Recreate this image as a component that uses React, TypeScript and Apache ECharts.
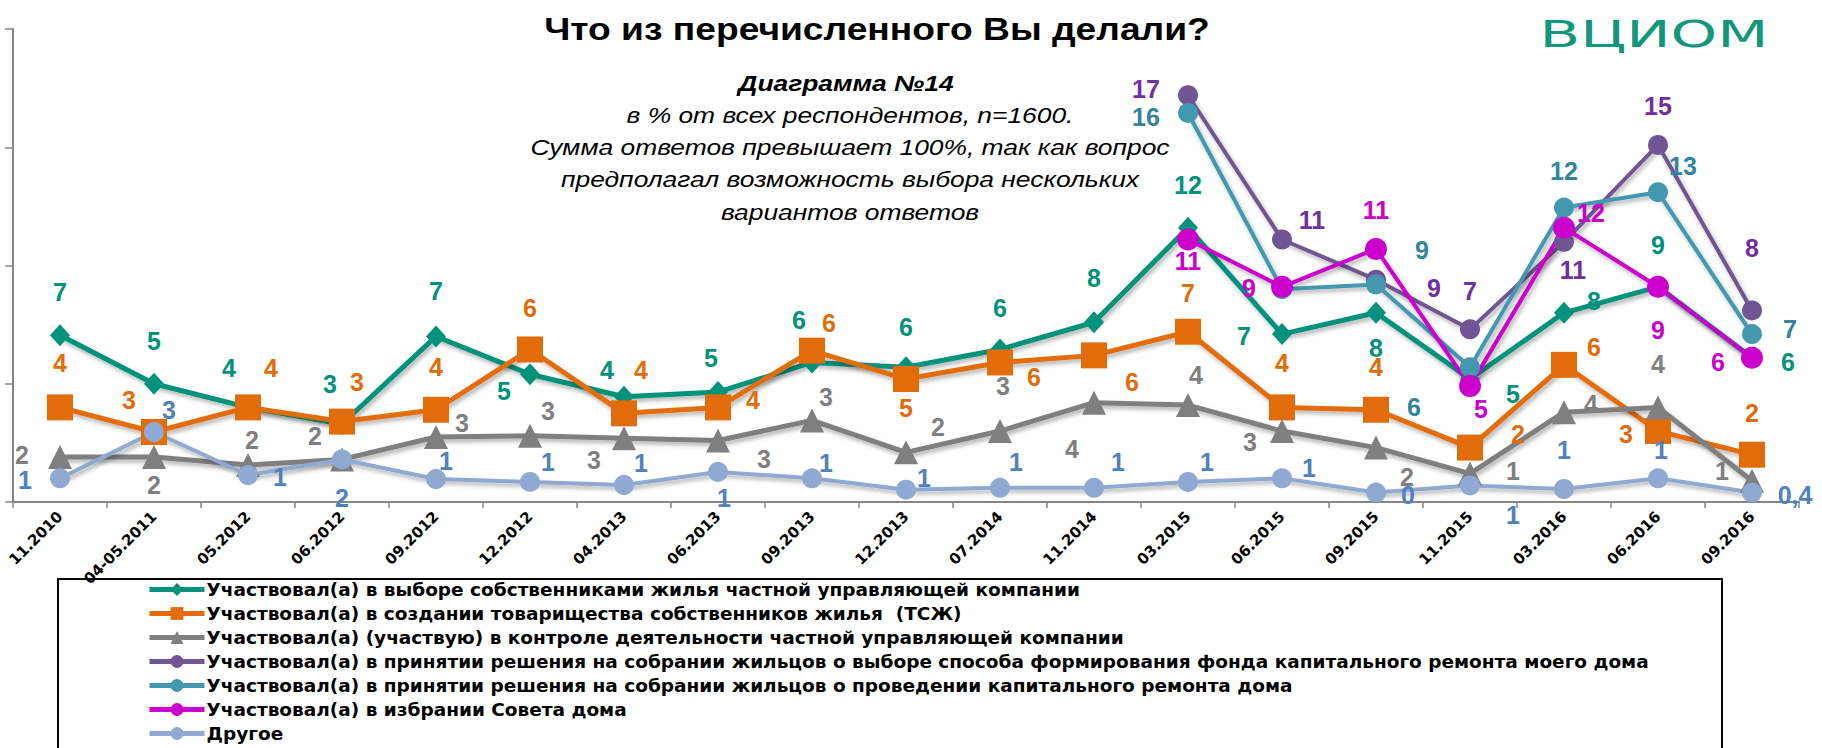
import React, { useEffect, useRef } from 'react';
import * as echarts from 'echarts';

const categories = [
  '11.2010', '04-05.2011', '05.2012', '06.2012', '09.2012', '12.2012', '04.2013', '06.2013',
  '09.2013', '12.2013', '07.2014', '11.2014', '03.2015', '06.2015', '09.2015', '11.2015',
  '03.2016', '06.2016', '09.2016',
];

const seriesNames = [
  'Участвовал(а) в выборе собственниками жилья частной управляющей компании',
  'Участвовал(а) в создании товарищества собственников жилья  (ТСЖ)',
  'Участвовал(а) (участвую) в контроле деятельности частной управляющей компании',
  'Участвовал(а) в принятии решения на собрании жильцов о выборе способа формирования фонда капитального ремонта моего дома',
  'Участвовал(а) в принятии решения на собрании жильцов о проведении капитального ремонта дома',
  'Участвовал(а) в избрании Совета дома',
  'Другое',
];

const greenValues = [7.05, 5.0, 4.0, 3.3, 7.0, 5.4, 4.45, 4.65, 5.9, 5.7, 6.45, 7.6, 11.6, 7.1, 8.0, 5.2, 8.0, 9.1, 6.1];
const orangeValues = [4.0, 2.96, 4.0, 3.4, 3.9, 6.45, 3.75, 4.0, 6.4, 5.2, 5.9, 6.2, 7.2, 4.0, 3.9, 2.3, 5.8, 3.0, 2.0];
const grayValues = [1.9, 1.9, 1.56, 1.8, 2.75, 2.8, 2.7, 2.6, 3.45, 2.1, 3.0, 4.2, 4.1, 3.0, 2.3, 1.2, 3.8, 4.0, 0.9];
const purpleValues = [null, null, null, null, null, null, null, null, null, null, null, null, 17.2, 11.1, 9.4, 7.3, 11.0, 15.1, 8.1];
const cyanValues = [null, null, null, null, null, null, null, null, null, null, null, null, 16.45, 9.0, 9.2, 5.7, 12.45, 13.1, 7.1];
const magentaValues = [null, null, null, null, null, null, null, null, null, null, null, null, 11.1, 9.1, 10.7, 4.9, 11.6, 9.1, 6.1];
const otherValues = [1.0, 2.96, 1.14, 1.8, 0.97, 0.85, 0.72, 1.27, 1.0, 0.52, 0.6, 0.6, 0.85, 1.0, 0.4, 0.7, 0.55, 1.0, 0.4];

// label display: number of decimals per point (only the last "Другое" value shows one decimal)
const otherLabelDecimals = [0, 0, 0, 0, 0, 0, 0, 0, 0, 0, 0, 0, 0, 0, 0, 0, 0, 0, 1];

// label offsets (px, relative to point), style only
const greenLabelOffsets = [[0, -43], [0, -43], [-19, -39], [-12, -40], [0, -45], [-26, 17], [-17, -27], [-7, -34], [-13, -42], [0, -40], [0, -41], [0, -44], [0, -43], [-38, 2], [0, 35], [43, 15], [30, -12], [0, -42], [36, 4]];
const orangeLabelOffsets = [[0, -44], [-25, -32], [23, -39], [15, -40], [0, -43], [0, -41], [17, -43], [35, -7], [17, -28], [0, 29], [34, 15], [38, 27], [0, -39], [0, -44], [0, -43], [48, -14], [30, -18], [-32, 3], [0, -42]];
const grayLabelOffsets = [[-38, -2], [0, 28], [4, -25], [-27, -23], [26, -14], [18, -25], [-30, 22], [46, 18], [14, -23], [32, -25], [3, -45], [-22, 46], [8, -30], [-32, 11], [31, 29], [43, -3], [27, -8], [0, -43], [-30, -10]];
const purpleLabelOffsets = [null, null, null, null, null, null, null, null, null, null, null, null, [-42, -6], [30, -19], [58, 8], [0, -38], [9, 28], [0, -39], [0, -62]];
const cyanLabelOffsets = [null, null, null, null, null, null, null, null, null, null, null, null, [-42, 4], null, [46, -34], [-56, 40], [0, -37], [25, -26], [38, -5]];
const magentaLabelOffsets = [null, null, null, null, null, null, null, null, null, null, null, null, [0, 22], [-33, 1], [0, -39], [11, 23], [27, -15], [0, 43], [-34, 4]];
const otherLabelOffsets = [[-35, 2], [15, -22], [32, 2], [0, 39], [10, -18], [18, -20], [17, -22], [6, 26], [14, -15], [18, -12], [16, -26], [24, -26], [19, -20], [27, -10], [32, 2], [43, 30], [0, -39], [3, -28], [43, 2]];

function makeSeries(
  name: string,
  values: (number | null)[],
  color: string,
  labelColor: string,
  symbol: string,
  symbolSize: number | number[],
  lineWidth: number,
  offsets: (number[] | null)[],
  decimals?: number[],
) {
  return {
    type: 'line',
    name,
    symbol,
    symbolSize,
    showAllSymbol: true,
    connectNulls: false,
    z: 2,
    lineStyle: {
      color,
      width: lineWidth,
      shadowColor: 'rgba(0,0,0,0.3)',
      shadowBlur: 4,
      shadowOffsetX: 2,
      shadowOffsetY: 3,
    },
    itemStyle: { color, borderWidth: 0 },
    emphasis: { disabled: true },
    label: {
      show: true,
      position: 'inside',
      color: labelColor,
      fontFamily: '"Liberation Sans", Arial, sans-serif',
      fontWeight: 'bold',
      fontSize: 25,
      textBorderWidth: 0,
      formatter: (p: any) => {
        const v = Array.isArray(p.value) ? p.value[1] : p.value;
        const d = decimals ? decimals[p.dataIndex] : 0;
        if (d > 0) return v.toFixed(d).replace('.', ',');
        return String(Math.round(v));
      },
    },
    data: values.map((v, i) =>
      v == null
        ? null
        : {
            value: v,
            label: offsets[i] ? { offset: offsets[i] } : { show: false },
          },
    ),
  };
}

const titleText = 'Что из перечисленного Вы делали?';
const subtitleHead = 'Диаграмма №14';
const subtitleLines = [
  'в % от всех респондентов, n=1600.',
  'Сумма ответов превышает 100%, так как вопрос',
  'предполагал возможность выбора нескольких',
  'вариантов ответов',
];

const centered = {
  align: 'center',
  verticalAlign: 'middle',
  textAlign: 'center',
  textVerticalAlign: 'middle',
};

export default function App() {
  const ref = useRef<HTMLDivElement>(null);

  useEffect(() => {
    if (!ref.current) return;
    const chart = echarts.init(ref.current, null, { renderer: 'svg' });

    const subX = 850;
    const option: any = {
      animation: false,
      backgroundColor: '#ffffff',
      grid: { left: 13, right: 23, top: 29, bottom: 246, containLabel: false },
      xAxis: {
        type: 'category',
        data: categories,
        boundaryGap: true,
        axisLine: { show: true, lineStyle: { color: '#868686', width: 2 } },
        axisTick: { show: true, interval: 0, length: 6, lineStyle: { color: '#868686', width: 1.5 } },
        axisLabel: {
          interval: 0,
          rotate: 45,
          margin: 12,
          color: '#000',
          fontFamily: '"DejaVu Sans", sans-serif',
          fontWeight: 'bold',
          fontSize: 15,
        },
        splitLine: { show: false },
      },
      yAxis: {
        type: 'value',
        min: 0,
        max: 20,
        interval: 5,
        axisLine: { show: true, lineStyle: { color: '#868686', width: 2 } },
        axisTick: { show: true, length: 8, lineStyle: { color: '#868686', width: 1.5 } },
        axisLabel: { show: false },
        splitLine: { show: false },
      },
      legend: {
        orient: 'vertical',
        left: 147,
        top: 580,
        padding: 0,
        itemWidth: 55,
        itemHeight: 16,
        itemGap: 5,
        selectedMode: false,
        lineStyle: { width: 5 },
        textStyle: {
          fontFamily: '"DejaVu Sans", sans-serif',
          fontWeight: 'bold',
          fontSize: 18.5,
          color: '#000',
          padding: [0, 0, 0, -3],
        },
        data: seriesNames,
      },
      graphic: [
        {
          type: 'rect',
          z: 0,
          shape: { x: 58, y: 579, width: 1664, height: 200 },
          style: { fill: 'none', stroke: '#000', lineWidth: 2 },
        },
        {
          type: 'text',
          x: 877,
          y: 29,
          scaleX: 1.2,
          style: {
            text: titleText,
            font: 'bold 31px "Liberation Sans", Arial, sans-serif',
            fill: '#000',
            ...centered,
          },
        },
        {
          type: 'text',
          x: subX - 4,
          y: 83,
          scaleX: 1.2,
          style: {
            text: subtitleHead,
            font: 'italic bold 22px "Liberation Sans", Arial, sans-serif',
            fill: '#000',
            ...centered,
          },
        },
        ...subtitleLines.map((t, i) => ({
          type: 'text',
          x: subX,
          y: 115 + i * 32.3,
          scaleX: 1.2,
          style: {
            text: t,
            font: 'italic 22px "Liberation Sans", Arial, sans-serif',
            fill: '#000',
            ...centered,
          },
        })),
        {
          type: 'text',
          x: 1654,
          y: 34,
          scaleX: 1.56,
          style: {
            text: 'ВЦИОМ',
            font: '38px "DejaVu Sans", sans-serif',
            fill: '#13977A',
            ...centered,
          },
        },
      ],
      series: [
        makeSeries(seriesNames[0], greenValues, '#00927A', '#00927A', 'diamond', [20, 22], 5, greenLabelOffsets),
        makeSeries(seriesNames[1], orangeValues, '#E36C0A', '#E36C0A', 'rect', 26, 5, orangeLabelOffsets),
        makeSeries(seriesNames[2], grayValues, '#7F7F7F', '#7F7F7F', 'triangle', 24, 5, grayLabelOffsets),
        makeSeries(seriesNames[3], purpleValues, '#6F5593', '#7030A0', 'circle', 20, 4, purpleLabelOffsets),
        makeSeries(seriesNames[4], cyanValues, '#4398B0', '#31849B', 'circle', 20, 4, cyanLabelOffsets),
        makeSeries(seriesNames[5], magentaValues, '#CC00CC', '#CC00CC', 'circle', 22, 4, magentaLabelOffsets),
        makeSeries(seriesNames[6], otherValues, '#8FA9D2', '#4F81BD', 'circle', 20, 4, otherLabelOffsets, otherLabelDecimals),
      ],
    };

    chart.setOption(option);
    return () => {
      chart.dispose();
    };
  }, []);

  return (
    <div
      ref={ref}
      style={{ position: 'fixed', left: 0, top: 0, width: 1822, height: 748, background: '#fff' }}
    />
  );
}
